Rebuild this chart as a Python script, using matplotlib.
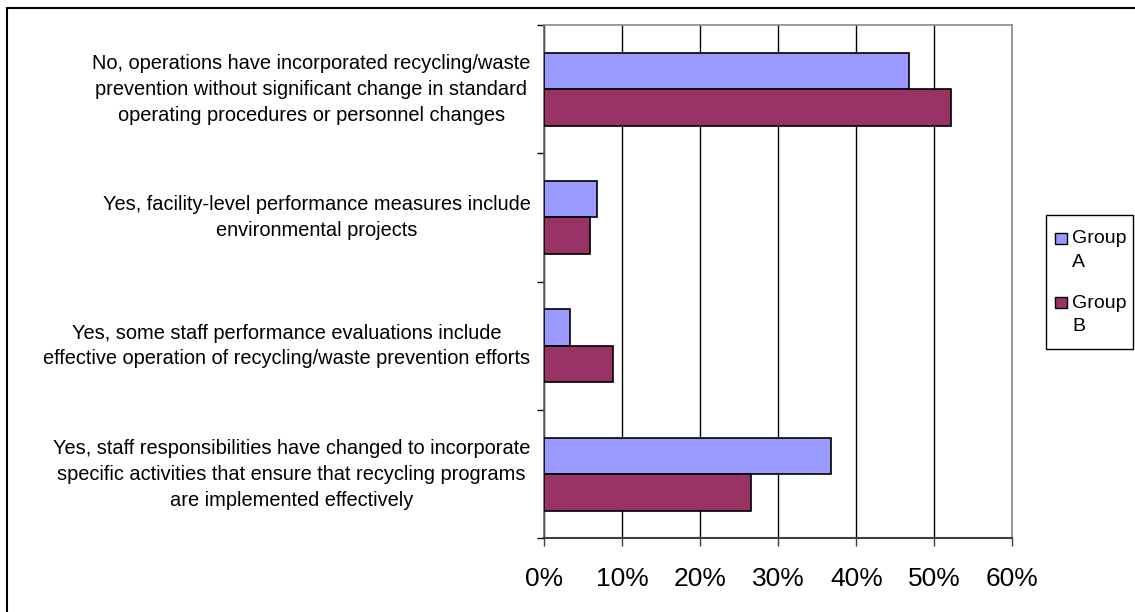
import matplotlib.pyplot as plt
from matplotlib.patches import Rectangle
from matplotlib.ticker import FuncFormatter
import numpy as np

plt.rcParams["font.family"] = ["Liberation Sans", "DejaVu Sans"]

# survey answers, listed top to bottom
categories = [
    "No, operations have incorporated recycling/waste\nprevention without significant change in standard\noperating procedures or personnel changes",
    "Yes, facility-level performance measures include\nenvironmental projects",
    "Yes, some staff performance evaluations include\neffective operation of recycling/waste prevention efforts",
    "Yes, staff responsibilities have changed to incorporate\nspecific activities that ensure that recycling programs\nare implemented effectively",
]
group_a = [0.467, 0.067, 0.033, 0.367]
group_b = [0.521, 0.059, 0.088, 0.265]
series_names = ["Group\nA", "Group\nB"]
colors = ["#9999FF", "#993366"]

W, H = 1135, 612
fig = plt.figure(figsize=(W / 100, H / 100), dpi=100)
ax = fig.add_axes([544.3 / W, 1 - 538.3 / H, (1012.3 - 544.3) / W, (538.3 - 25) / H])

y = np.arange(len(categories))
bar_h = 0.285
ax.barh(y - bar_h / 2, group_a, height=bar_h, color=colors[0],
        edgecolor="black", linewidth=1.2, zorder=3)
ax.barh(y + bar_h / 2, group_b, height=bar_h, color=colors[1],
        edgecolor="black", linewidth=1.2, zorder=3)

ax.set_ylim(len(categories) - 0.5, -0.5)
ax.set_xlim(0, 0.6)

# x axis: percent ticks with vertical gridlines
ax.set_xticks(np.arange(0, 0.61, 0.1))
ax.xaxis.set_major_formatter(FuncFormatter(lambda v, _: f"{v * 100:.0f}%"))
ax.tick_params(axis="x", direction="out", length=6, width=1, pad=14.5,
               labelsize=19, colors="#404040", labelcolor="black")
ax.grid(axis="x", color="black", linewidth=1, zorder=1)

# y axis: labels near category centers (lifted a bit, since the text box
# includes descent), ticks at boundaries
ax.set_yticks(y - 0.04)
ax.set_yticklabels(categories, fontsize=14.4)
for lbl in ax.get_yticklabels():
    lbl.set_multialignment("center")
    lbl.set_linespacing(1.45)
ax.tick_params(axis="y", which="major", length=0, pad=10)
ax.set_yticks(np.arange(-0.5, len(categories), 1), minor=True)
ax.tick_params(axis="y", which="minor", direction="out", length=5, width=1,
               color="black")

for side in ["top", "right", "left"]:
    ax.spines[side].set_color("#8a8a8a")
    ax.spines[side].set_linewidth(1.2)
ax.spines["left"].set_color("#606060")
ax.spines["bottom"].set_color("#404040")
ax.spines["bottom"].set_linewidth(1.5)

# legend box drawn by hand so the square sits beside the first text line
def fx(px):
    return px / W

def fy(py):
    return 1 - py / H

fig.add_artist(Rectangle((fx(1046), fy(349)), fx(1133) - fx(1046), fy(215) - fy(349),
                         transform=fig.transFigure, fill=False,
                         edgecolor="black", linewidth=1))
for i, (name, c) in enumerate(zip(series_names, colors)):
    sq_top = 232.7 + i * 64.6
    fig.add_artist(Rectangle((fx(1055), fy(sq_top + 11)), fx(11.5), 11 / H,
                             transform=fig.transFigure, facecolor=c,
                             edgecolor="black", linewidth=1))
    fig.text(fx(1072), fy(sq_top - 2.5), name, fontsize=14, va="top", ha="left",
             linespacing=1.5)

# outer chart border, running off the right and bottom edges
fig.add_artist(Rectangle((fx(7), -0.05), 1.0, fy(8) + 0.05,
                         transform=fig.transFigure, fill=False,
                         edgecolor="black", linewidth=1.5))

fig.savefig("out.png", dpi=100, facecolor="white")
